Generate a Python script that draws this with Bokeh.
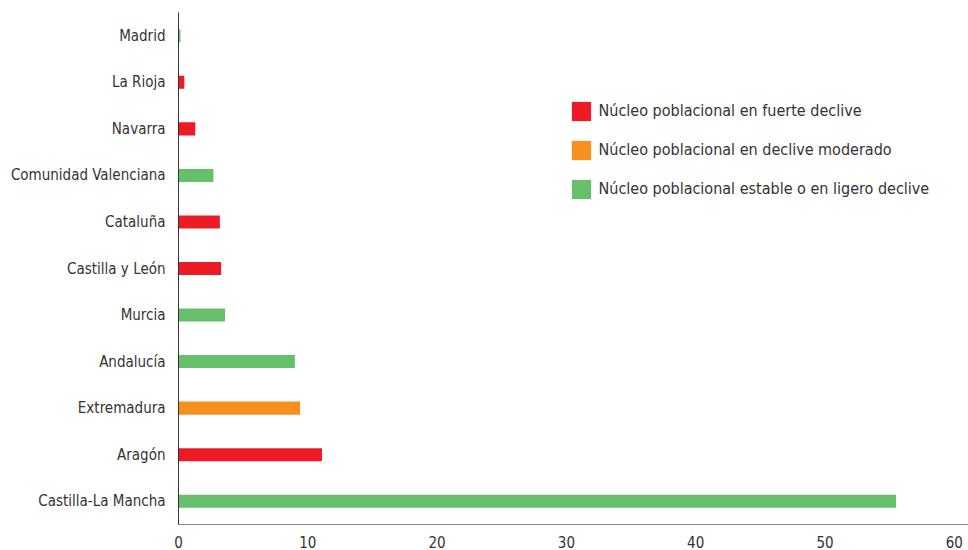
from bokeh.plotting import figure
from bokeh.models import ColumnDataSource, Legend, LegendItem, FactorRange
from bokeh.embed import file_html
from bokeh.resources import INLINE

regions = ["Castilla-La Mancha", "Aragón", "Extremadura", "Andalucía", "Murcia",
           "Castilla y León", "Cataluña", "Comunidad Valenciana", "Navarra",
           "La Rioja", "Madrid"]
values = [55.5, 11.1, 9.4, 9.0, 3.6, 3.3, 3.2, 2.7, 1.3, 0.45, 0.15]
status = ["estable", "fuerte", "moderado", "estable", "estable",
          "fuerte", "fuerte", "estable", "fuerte", "fuerte", "estable"]

groups = ["fuerte", "moderado", "estable"]
group_labels = ["Núcleo poblacional en fuerte declive",
                "Núcleo poblacional en declive moderado",
                "Núcleo poblacional estable o en ligero declive"]
group_colors = ["#ED1C24", "#F7901E", "#66BF6A"]
x_ticks = [0, 10, 20, 30, 40, 50, 60]

FONT = "DejaVu Sans Condensed"

p = figure(width=968, height=550, y_range=FactorRange(factors=regions, range_padding=0),
           x_range=(0, 61.1), output_backend="svg", toolbar_location=None,
           min_border_left=178, min_border_right=0, min_border_top=12, min_border_bottom=26)
p.outline_line_color = None
p.xgrid.grid_line_color = None
p.ygrid.grid_line_color = None

items = []
for g, lab, col in zip(groups, group_labels, group_colors):
    ys = [r for r, s in zip(regions, status) if s == g]
    xs = [v for v, s in zip(values, status) if s == g]
    src = ColumnDataSource(dict(y=ys, right=xs))
    r = p.hbar(y="y", right="right", left=0, height=0.28, source=src,
               fill_color=col, line_color=None)
    items.append(LegendItem(label=lab, renderers=[r]))

legend = Legend(items=items, location=(390.5, 323.5), orientation="vertical",
                glyph_width=24, glyph_height=24, spacing=15, padding=0, margin=0,
                label_text_font=FONT, label_text_font_size="16px",
                label_text_color="#333333", label_standoff=6,
                border_line_color=None, background_fill_alpha=0)
p.add_layout(legend, "center")

p.xaxis.ticker = x_ticks
p.xaxis.major_tick_line_color = None
p.xaxis.minor_tick_line_color = None
p.xaxis.axis_line_color = "#888888"
p.xaxis.major_label_text_font = FONT
p.xaxis.major_label_text_font_size = "15px"
p.xaxis.major_label_text_color = "#333333"
p.xaxis.major_label_standoff = 5

p.yaxis.major_tick_line_color = None
p.yaxis.minor_tick_line_color = None
p.yaxis.axis_line_color = "#333333"
p.yaxis.major_label_text_font = FONT
p.yaxis.major_label_text_font_size = "15px"
p.yaxis.major_label_text_color = "#333333"
p.yaxis.major_label_standoff = 7

open("out.html", "w").write(file_html(p, INLINE))
